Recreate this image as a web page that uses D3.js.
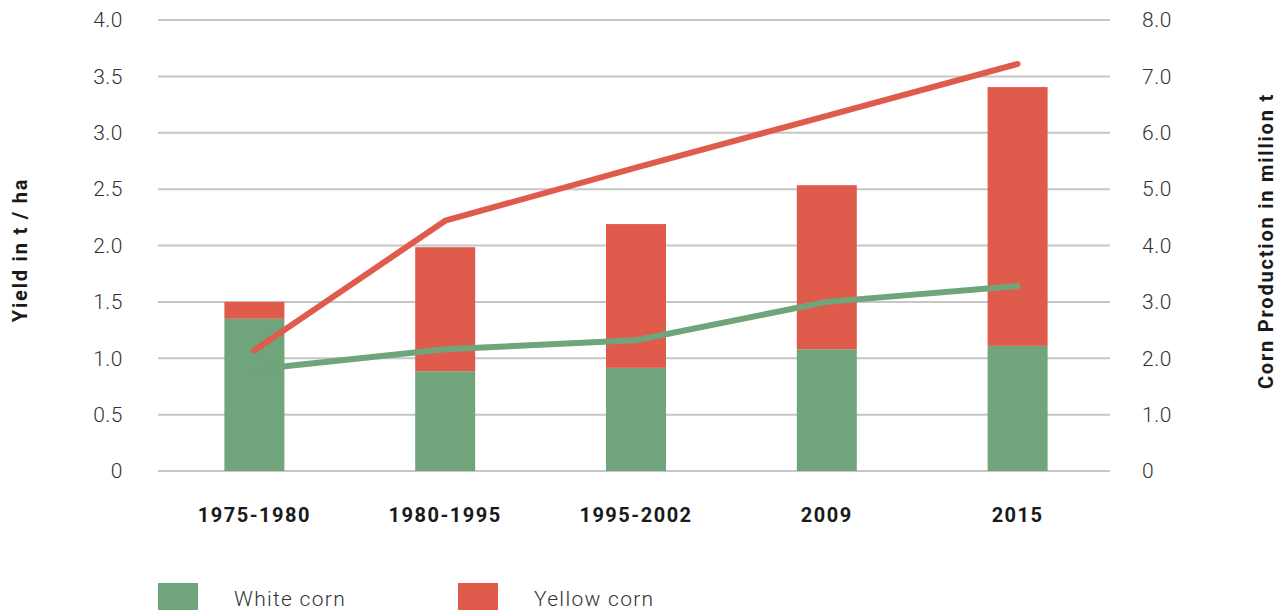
<!DOCTYPE html>
<meta charset="utf-8">
<style>
  body { margin: 0; background: #fff; }
  text { font-family: "Roboto", "DejaVu Sans", sans-serif; }
</style>
<div id="chart"></div>
<script src="https://d3js.org/d3.v7.min.js"></script>
<script>
    // data
    var categories = ["1975-1980", "1980-1995", "1995-2002", "2009", "2015"];
    var whiteProduction = [2.70, 1.77, 1.83, 2.16, 2.22];   // million t
    var yellowProduction = [0.30, 2.20, 2.55, 2.91, 4.59];  // million t
    var whiteYield = [0.90, 1.08, 1.16, 1.50, 1.64];        // t / ha
    var yellowYield = [1.07, 2.22, 2.69, 3.15, 3.61];       // t / ha
    var leftTicks = [0, 0.5, 1.0, 1.5, 2.0, 2.5, 3.0, 3.5, 4.0];
    var rightTicks = [0, 1, 2, 3, 4, 5, 6, 7, 8];
    var seriesNames = ["White corn", "Yellow corn"];

    var green = "#70a47a", red = "#df5b4b";
    var W = 1277, H = 610;
    var plotLeft = 158, plotRight = 1110, plotTop = 20, plotBottom = 471;

    var svg = d3.select("#chart").append("svg").attr("width", W).attr("height", H);

    var x = d3.scalePoint().domain(categories).range([159, 1113]).padding(0.5);
    var yL = d3.scaleLinear().domain([0, 4]).range([plotBottom, plotTop]);
    var yR = d3.scaleLinear().domain([0, 8]).range([plotBottom, plotTop]);
    var barW = 60;

    // gridlines
    svg.append("g").selectAll("line").data(leftTicks).enter().append("line")
        .attr("x1", plotLeft).attr("x2", plotRight)
        .attr("y1", function(d) { return yL(d); }).attr("y2", function(d) { return yL(d); })
        .attr("stroke", "#c6c6c6").attr("stroke-width", 2);

    // left axis labels
    svg.append("g").selectAll("text").data(leftTicks).enter().append("text")
        .attr("x", 123).attr("y", function(d) { return yL(d); })
        .attr("dy", "0.35em").attr("text-anchor", "end")
        .attr("font-size", 21).attr("font-weight", 300).attr("fill", "#333")
        .attr("letter-spacing", 0.5)
        .text(function(d) { return d === 0 ? "0" : d3.format(".1f")(d); });

    // right axis labels
    svg.append("g").selectAll("text").data(rightTicks).enter().append("text")
        .attr("x", 1142).attr("y", function(d) { return yR(d); })
        .attr("dy", "0.35em").attr("text-anchor", "start")
        .attr("font-size", 21).attr("font-weight", 300).attr("fill", "#333")
        .attr("letter-spacing", 0.5)
        .text(function(d) { return d === 0 ? "0" : d3.format(".1f")(d); });

    // stacked bars
    var table = categories.map(function(c, i) {
        return {cat: c, white: whiteProduction[i], yellow: yellowProduction[i]};
    });
    var stacked = d3.stack().keys(["white", "yellow"])(table);
    var color = d3.scaleOrdinal().domain(["white", "yellow"]).range([green, red]);

    svg.append("g").selectAll("g").data(stacked).enter().append("g")
        .attr("fill", function(d) { return color(d.key); })
        .selectAll("rect").data(function(d) { return d; }).enter().append("rect")
        .attr("x", function(d) { return x(d.data.cat) - barW / 2; })
        .attr("width", barW)
        .attr("y", function(d) { return yR(d[1]); })
        .attr("height", function(d) { return yR(d[0]) - yR(d[1]); });

    // yield lines
    var line = d3.line()
        .x(function(d, i) { return x(categories[i]); })
        .y(function(d) { return yL(d); });

    svg.append("path").datum(whiteYield)
        .attr("d", line).attr("fill", "none")
        .attr("stroke", green).attr("stroke-width", 6)
        .attr("stroke-linecap", "round").attr("stroke-linejoin", "round");

    svg.append("path").datum(yellowYield)
        .attr("d", line).attr("fill", "none")
        .attr("stroke", red).attr("stroke-width", 6)
        .attr("stroke-linecap", "round").attr("stroke-linejoin", "round");

    // category labels
    svg.append("g").selectAll("text").data(categories).enter().append("text")
        .attr("x", function(d) { return x(d); }).attr("y", 522)
        .attr("text-anchor", "middle").attr("font-size", 20).attr("font-weight", 700)
        .attr("fill", "#1a1a1a").attr("letter-spacing", 1.5)
        .text(function(d) { return d; });

    // axis titles
    svg.append("text")
        .attr("transform", "translate(27,250) rotate(-90)")
        .attr("text-anchor", "middle").attr("font-size", 20).attr("font-weight", 700)
        .attr("fill", "#1a1a1a").attr("letter-spacing", 1.8).text("Yield in t / ha");

    svg.append("text")
        .attr("transform", "translate(1273,241) rotate(-90)")
        .attr("text-anchor", "middle").attr("font-size", 20).attr("font-weight", 700)
        .attr("fill", "#1a1a1a").attr("letter-spacing", 1.8).text("Corn Production in million t");

    // legend
    var legend = svg.append("g").selectAll("g").data(seriesNames).enter().append("g")
        .attr("transform", function(d, i) { return "translate(" + (158 + i * 300) + ",583)"; });
    legend.append("rect").attr("width", 40).attr("height", 30)
        .attr("fill", function(d, i) { return i === 0 ? green : red; });
    legend.append("text").attr("x", 76).attr("y", 23)
        .attr("font-size", 21).attr("font-weight", 300).attr("fill", "#333")
        .attr("letter-spacing", 1.3)
        .text(function(d) { return d; });
</script>
